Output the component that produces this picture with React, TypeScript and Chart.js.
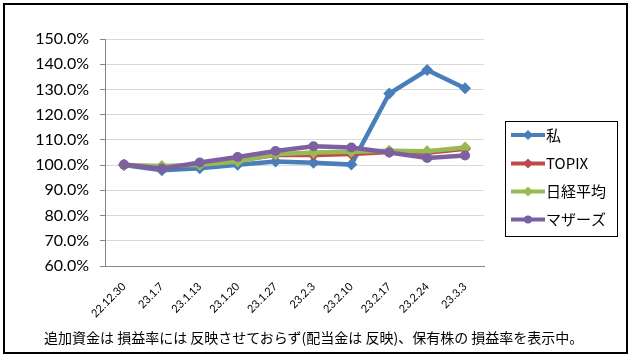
import React, { useEffect, useRef } from "react";
import { Chart, registerables } from "chart.js";

Chart.register(...registerables);

const categories = ["22.12.30", "23.1.7", "23.1.13", "23.1.20", "23.1.27", "23.2.3", "23.2.10", "23.2.17", "23.2.24", "23.3.3"];
const seriesMe = [100.0, 98.0, 98.8, 100.1, 101.4, 100.9, 100.2, 128.4, 137.7, 130.5];
const seriesTopix = [100.0, 99.0, 100.4, 101.9, 104.0, 104.0, 104.4, 105.2, 104.9, 106.5];
const seriesNikkei = [100.0, 99.6, 100.1, 101.4, 104.3, 105.0, 105.3, 105.7, 105.5, 107.0];
const seriesMothers = [100.2, 98.6, 101.0, 103.2, 105.6, 107.5, 107.0, 105.0, 102.8, 103.8];
const seriesNames = ["私", "TOPIX", "日経平均", "マザーズ"];
const caption = "追加資金は 損益率には 反映させておらず(配当金は 反映)、保有株の 損益率を表示中。";

const COLORS = ["#4A7EBB", "#BE4B48", "#98B954", "#7D60A0"];
const STYLES = ["rectRot", "rectRot", "rectRot", "circle"];
const LATIN = "Lato, 'Noto Sans CJK JP', sans-serif";
const JP = "'Noto Sans CJK JP', sans-serif";

const boxLegend = {
  id: "boxLegend",
  afterDraw(chart: any) {
    const ctx = chart.ctx;
    const left = 505.5, top = 121.5, right = 617.5, bottom = 236.5;
    ctx.save();
    ctx.strokeStyle = "#000";
    ctx.lineWidth = 1;
    ctx.strokeRect(left, top, right - left, bottom - top);
    const rows = [135, 163.5, 191.5, 219.5];
    chart.data.datasets.forEach((ds: any, i: number) => {
      const y = rows[i];
      ctx.strokeStyle = ds.borderColor;
      ctx.lineWidth = 4;
      ctx.lineCap = "butt";
      ctx.beginPath();
      ctx.moveTo(511, y);
      ctx.lineTo(545, y);
      ctx.stroke();
      ctx.fillStyle = ds.borderColor;
      ctx.beginPath();
      if (ds.pointStyle === "circle") {
        ctx.arc(528, y, 4, 0, Math.PI * 2);
      } else {
        ctx.moveTo(528, y - 5);
        ctx.lineTo(533, y);
        ctx.lineTo(528, y + 5);
        ctx.lineTo(523, y);
        ctx.closePath();
      }
      ctx.fill();
      ctx.fillStyle = "#000";
      ctx.font = "15px " + JP;
      ctx.textBaseline = "middle";
      ctx.textAlign = "left";
      ctx.fillText(ds.label, 546, y);
    });
    ctx.restore();
  },
};

export default function App() {
  const ref = useRef<HTMLCanvasElement | null>(null);
  useEffect(() => {
    if (!ref.current) return;
    const allSeries = [seriesMe, seriesTopix, seriesNikkei, seriesMothers];
    const chart = new Chart(ref.current, {
      type: "line",
      data: {
        labels: categories,
        datasets: allSeries.map((d, i) => ({
          label: seriesNames[i],
          data: d,
          borderColor: COLORS[i],
          backgroundColor: COLORS[i],
          pointBackgroundColor: COLORS[i],
          pointBorderColor: COLORS[i],
          borderWidth: 4.5,
          pointStyle: STYLES[i] as any,
          pointRadius: STYLES[i] === "circle" ? 5 : 6,
          pointBorderWidth: 0,
          tension: 0,
          order: 3 - i,
        })),
      },
      options: {
        responsive: false,
        animation: false,
        devicePixelRatio: 1,
        layout: { padding: { left: 0, right: 147, top: 39, bottom: 0 } },
        plugins: { legend: { display: false }, tooltip: { enabled: false } },
        scales: {
          x: {
            offset: true,
            afterFit: (s: any) => { s.height = 93; },
            grid: { display: false, offset: true },
            border: { display: true, color: "#868686", width: 1 },
            ticks: {
              minRotation: 45,
              maxRotation: 45,
              autoSkip: false,
              padding: 6,
              color: "#000",
              font: { size: 11, family: LATIN },
            },
          },
          y: {
            min: 60,
            max: 150,
            afterFit: (s: any) => { s.width = 105; },
            grid: { color: "#D9D9D9", tickColor: "#868686", tickLength: 5 },
            border: { display: true, color: "#868686", width: 1 },
            ticks: {
              stepSize: 10,
              padding: 11,
              color: "#000",
              font: { size: 16, family: LATIN },
              callback: (v: any) => Number(v).toFixed(1) + "%",
            },
          },
        },
      },
      plugins: [boxLegend],
    });
    return () => chart.destroy();
  }, []);

  return (
    <div style={{ position: "fixed", left: 0, top: 0, width: 631, height: 359, background: "#fff" }}>
      <canvas ref={ref} width={631} height={359} style={{ position: "absolute", left: 0, top: 0 }} />
      <div
        style={{
          position: "absolute",
          left: 3,
          top: 3,
          width: 625,
          height: 351,
          border: "2px solid #000",
          boxSizing: "border-box",
          pointerEvents: "none",
        }}
      />
      <div
        style={{
          position: "absolute",
          left: 44,
          top: 329,
          fontFamily: JP,
          fontSize: 14,
          lineHeight: "16px",
          color: "#000",
          whiteSpace: "pre",
        }}
      >
        {caption}
      </div>
    </div>
  );
}
